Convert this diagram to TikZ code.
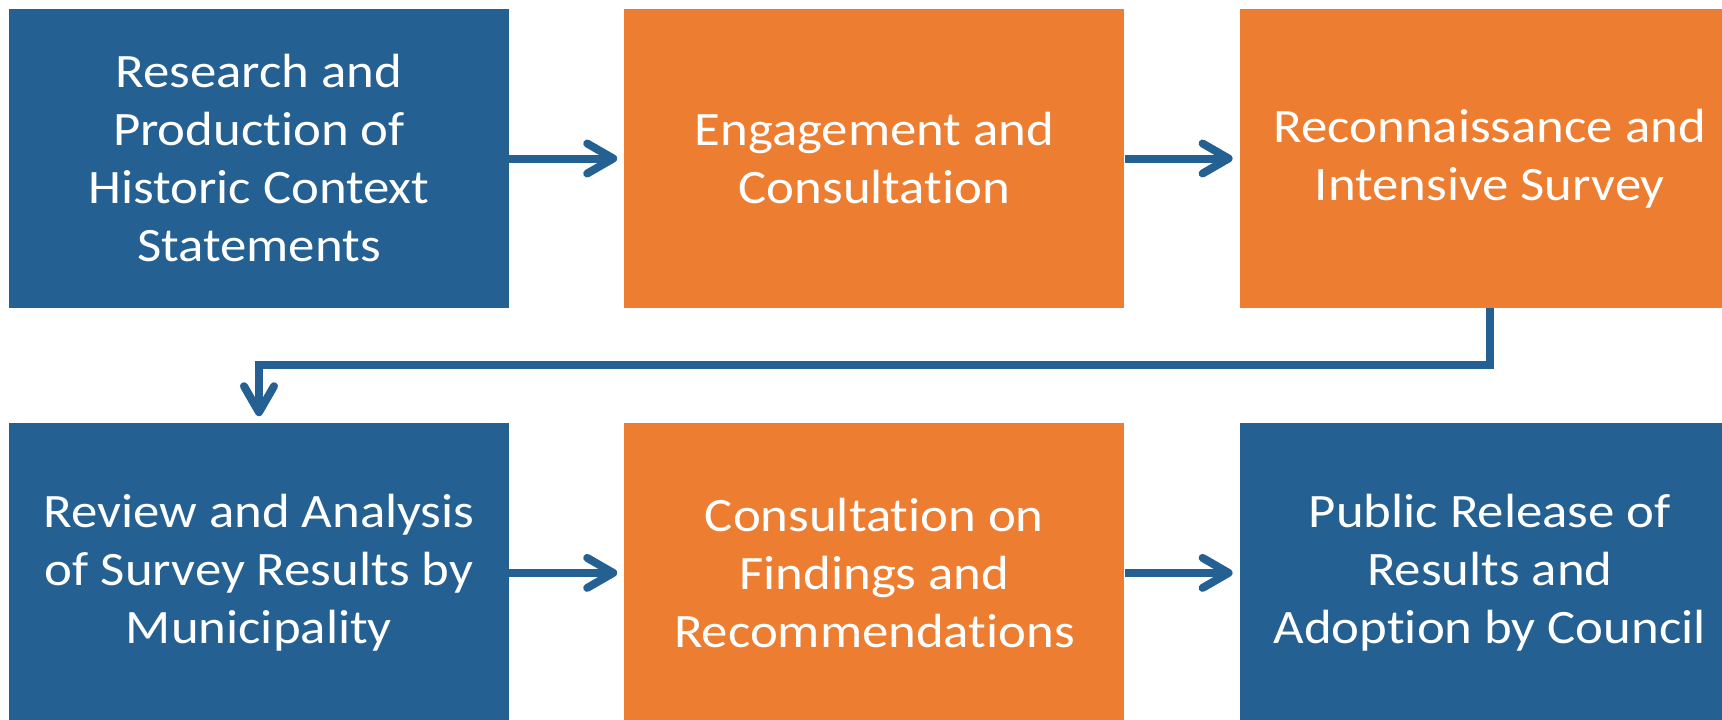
\documentclass[tikz,border=0pt]{standalone}
\usepackage{fontspec}
\setmainfont{Carlito}[FakeStretch=1.1, Ligatures=NoCommon]
\usetikzlibrary{arrows.meta,positioning}
\definecolor{stepblue}{RGB}{36,96,145}
\definecolor{steporange}{RGB}{237,125,49}
\tikzstyle{block} = [rectangle, text=white, inner sep=0pt, minimum width=500pt, minimum height=299pt, align=center, font=\fontsize{48}{58}\selectfont, node distance=115pt]
\tikzstyle{blueblock} = [block, fill=stepblue]
\tikzstyle{orangeblock} = [block, fill=steporange]
\tikzstyle{arrow} = [draw, line width=8pt, color=stepblue, shorten >=7pt, -{Straight Barb[length=26pt, width=30pt, round]}]

\begin{document}
\begin{tikzpicture}

  \clip (0,0) rectangle (1722pt,-720pt);

  \node[blueblock] (research) at (259pt,-158.5pt) {Research and\\Production of\\Historic Context\\Statements};
  \node[orangeblock, right=of research] (engage) {Engagement and\\Consultation};
  \node[orangeblock, right=of engage] (recon) {Reconnaissance and\\Intensive Survey};
  \node[blueblock, below=of research] (review) {Review and Analysis\\of Survey Results by\\Municipality};
  \node[orangeblock, right=of review] (consult) {Consultation on\\Findings and\\Recommendations};
  \node[blueblock, right=of consult] (release) {Public Release of\\Results and\\Adoption by Council};

  \path[arrow] (research)--(engage);
  \path[arrow] (engage)--(recon);
  \path[arrow] (recon.south) -- ++(0pt,-57pt) -| (review.north);
  \path[arrow] (review)--(consult);
  \path[arrow] (consult)--(release);

\end{tikzpicture}
\end{document}
